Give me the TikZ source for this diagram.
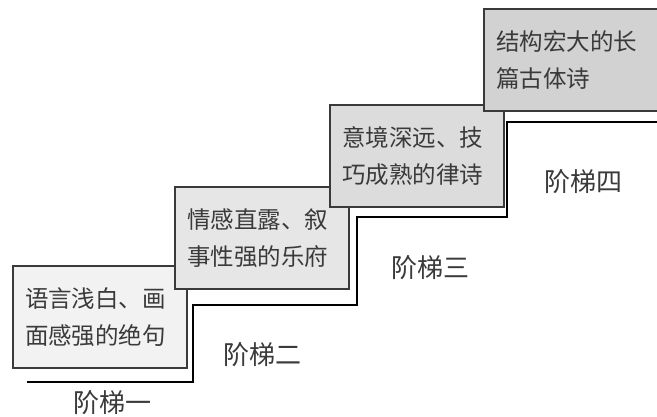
\documentclass[tikz,border=0pt]{standalone}
\usepackage{fontspec}
\newfontfamily\cjk{Noto Sans CJK SC}
\usepackage{xcolor}
\usetikzlibrary{positioning}
\definecolor{inkgray}{HTML}{3A3A3A}
\definecolor{fillA}{HTML}{F2F2F2}
\definecolor{fillB}{HTML}{E6E6E6}
\definecolor{fillC}{HTML}{DCDCDC}
\definecolor{fillD}{HTML}{D2D2D2}
\tikzset{
  stepbox/.style = {draw=inkgray, line width=2pt, anchor=north west,
                    minimum width=171pt, minimum height=102pt,
                    text width=150pt, inner xsep=12pt, align=left,
                    text=inkgray, font=\cjk\fontsize{23.5}{37}\selectfont},
  steplabel/.style = {text=inkgray, font=\cjk\fontsize{26}{30}\selectfont},
  stair/.style = {draw=black, line width=2.6pt, line join=miter},
}
\begin{document}
\begin{tikzpicture}[x=1pt, y=-1pt]
  \useasboundingbox (0,0) rectangle (657,417);

  % Stair line
  \coordinate (s0) at (27,382);
  \coordinate (s1) at (657,122);
  \draw[stair] (s0) -- (193,382) -- (193,305) -- (357,305)
               -- (357,217) -- (507,217) -- (507,122) -- (s1);

  % Boxes, lowest first
  \node[stepbox, fill=fillA] (poemA) at (12,265) {语言浅白、画\\面感强的绝句};
  \node[stepbox, fill=fillB] (poemB) at (174,186) {情感直露、叙\\事性强的乐府};
  \node[stepbox, fill=fillC] (poemC) at (329,104) {意境深远、技\\巧成熟的律诗};
  \node[stepbox, fill=fillD] (poemD) at (483,8) {结构宏大的长\\篇古体诗};

  % Step labels
  \node[steplabel] (lvlA) at (113,403) {阶梯一};
  \node[steplabel] (lvlB) at (262,355) {阶梯二};
  \node[steplabel] (lvlC) at (430,268) {阶梯三};
  \node[steplabel] (lvlD) at (583,182) {阶梯四};
\end{tikzpicture}
\end{document}
